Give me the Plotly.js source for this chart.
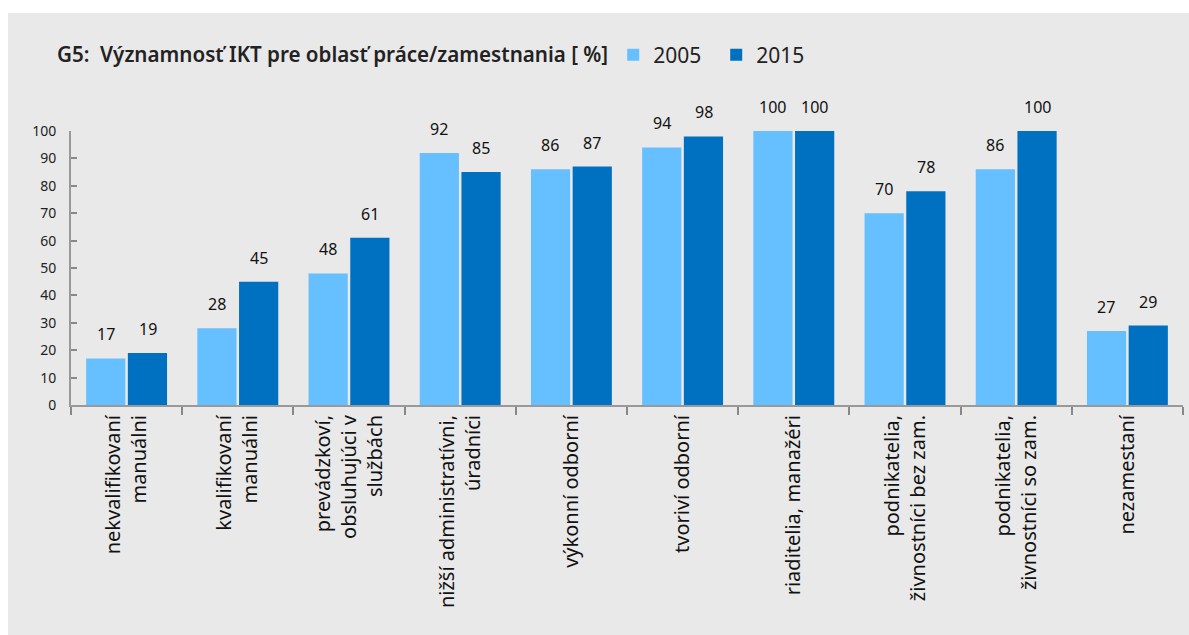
<!DOCTYPE html>
<html><head><meta charset="utf-8">
<script src="https://cdn.plot.ly/plotly-3.0.1.min.js"></script>
<style>
html,body{margin:0;padding:0;background:#fff;}
#chart{position:absolute;left:8px;top:13px;width:1181px;height:622px;}
</style></head>
<body><div id="chart"></div>
<script>
const categories = [
  "nekvalifikovaní<br>manuálni",
  "kvalifikovaní<br>manuálni",
  "prevádzkoví,<br>obsluhujúci v<br>službách",
  "nižší administratívni,<br>úradníci",
  "výkonní odborní",
  "tvoriví odborní",
  "riaditelia, manažéri",
  "podnikatelia,<br>živnostníci bez zam.",
  "podnikatelia,<br>živnostníci so zam.",
  "nezamestaní"
];
const values2005 = [17, 28, 48, 92, 86, 94, 100, 70, 86, 27];
const values2015 = [19, 45, 61, 85, 87, 98, 100, 78, 100, 29];
const seriesNames = ["2005", "2015"];
const yTicks = [0,10,20,30,40,50,60,70,80,90,100];

const font = "Noto Sans, sans-serif";
const traces = [
  {type:'bar', name:seriesNames[0], x:categories, y:values2005, marker:{color:'#66bfff'}},
  {type:'bar', name:seriesNames[1], x:categories, y:values2015, marker:{color:'#0070c0'}}
];
const ann = [];
[values2005, values2015].forEach((vals, si) => {
  vals.forEach((v, i) => {
    ann.push({x:categories[i], y:v, xref:'x', yref:'y', text:String(v), showarrow:false,
      xanchor:'center', yanchor:'bottom', xshift: si===0 ? -21 : 21, yshift:11,
      font:{family:font, size:16, color:'#111'}});
  });
});
const layout = {
  width:1181, height:622,
  paper_bgcolor:'#e9e9e9', plot_bgcolor:'#e9e9e9',
  margin:{l:63, r:6, t:118, b:230},
  barmode:'group', bargap:0.25, bargroupgap:0.06,
  title:{text:'G5:  Významnosť IKT pre oblasť práce/zamestnania [ %]', xref:'container', yref:'container',
    x:0.0415, xanchor:'left', y:0.9325, yanchor:'middle',
    font:{family:font, size:20.6, color:'#222', weight:600}},
  showlegend:true,
  legend:{orientation:'h', x:0.4876, xanchor:'left', y:1.277, yanchor:'middle', bgcolor:'rgba(0,0,0,0)',
    font:{family:font, size:21, color:'#222'}, itemwidth:30, entrywidth:58, entrywidthmode:'pixels',
    traceorder:'normal'},
  xaxis:{type:'category', tickson:'boundaries', ticks:'outside', ticklen:8, tickcolor:'#888', tickwidth:2,
    showline:true, linecolor:'#999', linewidth:2, tickangle:-90, showgrid:false,
    tickfont:{family:font, size:20, color:'#111'}},
  yaxis:{range:[0,100], tickvals:yTicks, ticks:'inside', ticklen:6, tickcolor:'#888', tickwidth:2,
    showline:true, linecolor:'#999', linewidth:2, showgrid:false, zeroline:false, ticklabelstandoff:10,
    tickfont:{family:font, size:14, color:'#222'}},
  annotations:ann
};
Plotly.newPlot('chart', traces, layout, {displayModeBar:false, staticPlot:true});
</script></body></html>
